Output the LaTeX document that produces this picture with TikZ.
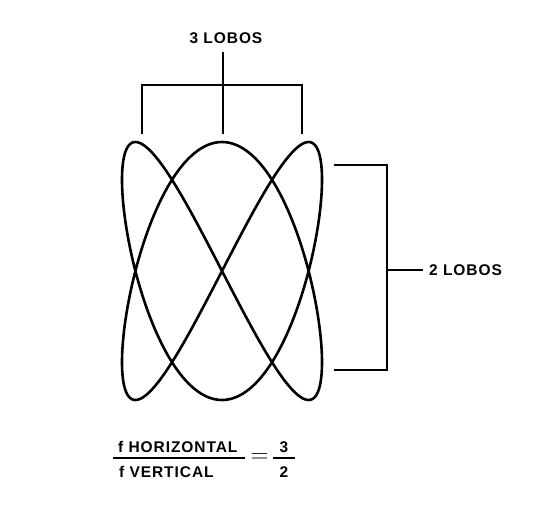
\documentclass[tikz,border=0pt]{standalone}
\usepackage{fontspec}
\setmainfont{Liberation Sans}[LetterSpace=6]
\begin{document}
\begin{tikzpicture}[x=1pt,y=-1pt,
  curve/.style={line width=2.6pt,line join=round},
  brk/.style={line width=1.9pt,line cap=rect},
  lbl/.style={inner sep=0pt,font=\bfseries\fontsize{15.5}{18}\selectfont}]
\useasboundingbox (0,0) rectangle (555,506);
% Lissajous figure 3:2
\draw[curve] plot[domain=0:360,samples=361,smooth,variable=\t]
  ({222+100*sin(2*\t)},{271+129*sin(3*\t)});
% top bracket
\node[lbl] (top) at (226,38) {3 LOBOS};
\coordinate (t0) at (223,53);
\coordinate (tm) at (223,85);
\coordinate (tl) at (142,85);
\coordinate (tr) at (302,85);
\coordinate (tlb) at (142,133);
\coordinate (tmb) at (223,133);
\coordinate (trb) at (302,133);
\draw[brk] (tlb) -- (tl) -- (tr) -- (trb);
\draw[brk] (t0) -- (tmb);
% right bracket
\coordinate (ra) at (335,165);
\coordinate (rb) at (387,165);
\coordinate (rc) at (387,370);
\coordinate (rd) at (335,370);
\coordinate (rm) at (387,270);
\node[lbl,anchor=west] (right) at (429,270) {2 LOBOS};
\draw[brk] (ra) -- (rb) -- (rc) -- (rd);
\draw[brk] (rm) -- (right.west -| 422,0);
% fraction
\node[lbl,anchor=west] (num) at (118,447) {f HORIZONTAL};
\node[lbl,anchor=west] (den) at (119,472) {f VERTICAL};
\coordinate (fl) at (113,458);
\coordinate (fr) at (245,458);
\draw[line width=1.8pt] (fl) -- (fr);
\node[inner sep=0pt,font=\bfseries\fontsize{26}{26}\selectfont] (eq) at (259.5,458) {$\mathbf{=}$};
\node[lbl] (three) at (284,447) {3};
\node[lbl] (two) at (284,472) {2};
\coordinate (gl) at (273,458);
\coordinate (gr) at (295,458);
\draw[line width=1.8pt] (gl) -- (gr);
\end{tikzpicture}
\end{document}
